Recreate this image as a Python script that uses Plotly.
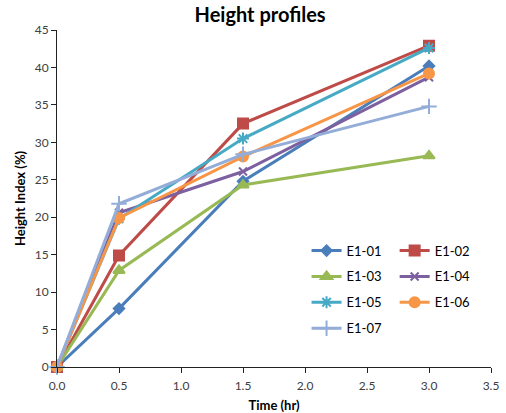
import plotly.graph_objects as go

time_hr = [0.0, 0.5, 1.5, 3.0]
series_names = ["E1-01", "E1-02", "E1-03", "E1-04", "E1-05", "E1-06", "E1-07"]
e1_01 = [0, 7.8, 24.8, 40.2]
e1_02 = [0, 14.9, 32.5, 42.9]
e1_03 = [0, 12.9, 24.3, 28.2]
e1_04 = [0, 20.6, 26.1, 38.7]
e1_05 = [0, 19.8, 30.5, 42.6]
e1_06 = [0, 19.9, 28.1, 39.2]
e1_07 = [0, 21.8, 28.4, 34.8]
values = [e1_01, e1_02, e1_03, e1_04, e1_05, e1_06, e1_07]

colors = ["#4A7EBB", "#BE4B48", "#98B954", "#7D60A0", "#46AAC5", "#F79646", "#93ADD8"]
symbols = ["diamond", "square", "triangle-up", "x-thin-open", "asterisk-open", "circle", "cross-thin-open"]
msizes = [8, 10, 10, 8, 10, 10, 11]
legends = ["legend", "legend2", "legend", "legend2", "legend", "legend2", "legend"]

FONT = "Lato, Carlito, Calibri, sans-serif"

fig = go.Figure()
for name, ys, c, s, ms, lg in zip(series_names, values, colors, symbols, msizes, legends):
    fig.add_trace(go.Scatter(
        x=time_hr, y=ys, name=name, mode="lines+markers",
        line=dict(color=c, width=3),
        marker=dict(symbol=s, size=ms, color=c, line=dict(color=c, width=2)),
        legend=lg, legendgroup=name, cliponaxis=False,
    ))

legend_common = dict(
    font=dict(family=FONT, size=13, color="#000000"),
    bgcolor="rgba(0,0,0,0)", traceorder="grouped", tracegroupgap=6,
    itemwidth=30, xanchor="left", yanchor="top",
)

fig.update_layout(
    width=506, height=413,
    margin=dict(l=57, r=15, t=30, b=46, autoexpand=False),
    paper_bgcolor="white", plot_bgcolor="white",
    font=dict(family=FONT, size=12, color="#404040"),
    title=dict(text="<b>Height profiles</b>", x=0.514, xref="container", xanchor="center",
               y=0.963, yref="container", yanchor="middle",
               font=dict(family=FONT, size=20, color="#000000")),
    legend=dict(x=0.575, y=0.39, **legend_common),
    legend2=dict(x=0.778, y=0.39, **legend_common),
    xaxis=dict(range=[0, 3.5], dtick=0.5, tick0=0, tickformat=".1f", automargin=False,
               showgrid=False, zeroline=False, showline=True, linecolor="#222222", linewidth=1,
               ticks="outside", ticklen=5, tickcolor="#222222", ticklabelstandoff=3,
               tickfont=dict(family=FONT, size=12, color="#404040"),
               title=dict(text="<b>Time (hr)</b>", standoff=8,
                          font=dict(family=FONT, size=13, color="#000000"))),
    yaxis=dict(range=[0, 45], dtick=5, tick0=0, automargin=False,
               showgrid=False, zeroline=False, showline=True, linecolor="#222222", linewidth=1,
               ticks="outside", ticklen=5, tickcolor="#222222",
               tickfont=dict(family=FONT, size=12, color="#404040"),
               title=dict(text="<b>Height Index (%)</b>", standoff=6,
                          font=dict(family=FONT, size=13, color="#000000"))),
)

# remove the default page margin so the figure fills the window exactly
fig.write_html("out.html", config={"displayModeBar": False},
               post_script="document.body.style.margin='0';")
